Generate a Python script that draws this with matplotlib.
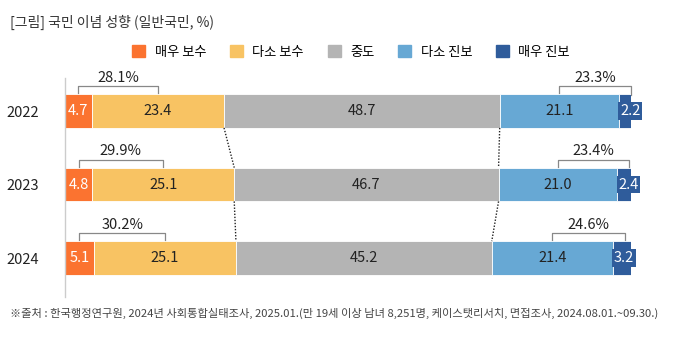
import numpy as np
import matplotlib.pyplot as plt

plt.rcParams['font.family'] = ['Noto Sans CJK KR', 'DejaVu Sans']

years = ['2022', '2023', '2024']
categories = ['매우 보수', '다소 보수', '중도', '다소 진보', '매우 진보']
very_cons = [4.7, 4.8, 5.1]
some_cons = [23.4, 25.1, 25.1]
middle = [48.7, 46.7, 45.2]
some_prog = [21.1, 21.0, 21.4]
very_prog = [2.2, 2.4, 3.2]
cons_total = ['28.1%', '29.9%', '30.2%']
prog_total = ['23.3%', '23.4%', '24.6%']

colors = ['#FB7330', '#F8C363', '#B4B4B4', '#67A8D4', '#2F5C9B']
text_colors = ['white', '#222222', '#222222', '#222222', 'white']

title = '[그림] 국민 이념 성향 (일반국민, %)'
source = ('※출처 : 한국행정연구원, 2024년 사회통합실태조사, 2025.01.(만 19세 이상 남녀 8,251명, '
          '케이스탯리서치, 면접조사, 2024.08.01.~09.30.)')

W, H = 676, 339
fig = plt.figure(figsize=(W / 100, H / 100), dpi=100)
ax = fig.add_axes([65 / W, 1 - 297 / H, 566 / W, 219 / H])

series = [very_cons, some_cons, middle, some_prog, very_prog]
y = np.arange(len(years))
bar_h = 0.46
left = np.zeros(len(years))
starts = []
for i, vals in enumerate(series):
    vals = np.array(vals)
    ax.barh(y, vals, left=left, height=bar_h, color=colors[i],
            edgecolor='white', linewidth=0.6, zorder=2)
    starts.append(left.copy())
    for j in range(len(years)):
        if i == 4:
            ax.text(left[j] + 0.15, y[j], f'{vals[j]:.1f}', ha='left', va='center',
                    fontsize=10.5, color='white', zorder=4,
                    bbox=dict(boxstyle='square,pad=0.12', fc=colors[i], ec='none'))
        else:
            ax.text(left[j] + vals[j] / 2, y[j], f'{vals[j]:.1f}', ha='center', va='center',
                    fontsize=10.5, color=text_colors[i], zorder=4)
    left = left + vals

# brackets over conservative / progressive sums
top = bar_h / 2
bh = 0.11
for j in range(len(years)):
    x0 = starts[0][j] + very_cons[j] / 2
    x1 = starts[1][j] + some_cons[j] / 2
    ax.plot([x0, x0, x1, x1], [y[j] - top + 0.01, y[j] - top - bh, y[j] - top - bh, y[j] - top + 0.01],
            color='#888888', lw=0.9, clip_on=False, zorder=1)
    ax.text((x0 + x1) / 2, y[j] - top - bh - 0.02, cons_total[j], ha='center', va='bottom',
            fontsize=10.5, color='#222222')
    x0 = starts[3][j] + some_prog[j] / 2
    x1 = starts[4][j] + 2.1
    ax.plot([x0, x0, x1, x1], [y[j] - top + 0.01, y[j] - top - bh, y[j] - top - bh, y[j] - top + 0.01],
            color='#888888', lw=0.9, clip_on=False, zorder=1)
    ax.text((x0 + x1) / 2, y[j] - top - bh - 0.02, prog_total[j], ha='center', va='bottom',
            fontsize=10.5, color='#222222')

# dotted connectors at the middle segment edges
for j in range(len(years) - 1):
    for k in (2, 3):
        ax.plot([starts[k][j], starts[k][j + 1]], [y[j] + top, y[j + 1] - top],
                color='#222222', lw=1.0, ls=(0, (1, 1.2)), zorder=3)

ax.set_xlim(0, 100)
ax.set_ylim(2.53, -0.449)
ax.set_yticks(y)
ax.set_yticklabels(years, fontsize=10.5, color='#222222')
ax.tick_params(axis='y', length=0, pad=19)
ax.set_xticks([])
for s in ['top', 'right', 'bottom']:
    ax.spines[s].set_visible(False)
ax.spines['left'].set_color('#cccccc')
ax.spines['left'].set_linewidth(1.0)

# legend
handles = [plt.Rectangle((0, 0), 1, 1, color=c) for c in colors]
fig.legend(handles, categories, loc='center', bbox_to_anchor=(351 / W, 1 - 52 / H),
           ncol=5, frameon=False, fontsize=9.5, handlelength=1.0, handleheight=1.0,
           columnspacing=1.8, handletextpad=0.7)

fig.text(10 / W, 1 - 22 / H, title, ha='left', va='center', fontsize=10, color='#333333')
fig.text(10 / W, 1 - 313 / H, source, ha='left', va='center', fontsize=8.1, color='#444444')

fig.savefig('out.png', dpi=100)
